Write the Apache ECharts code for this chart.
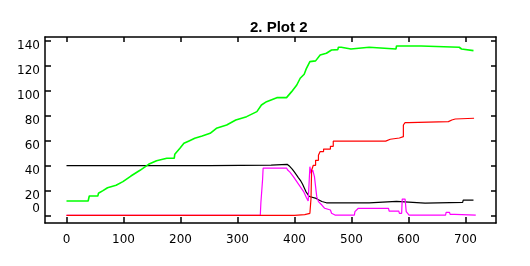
<!DOCTYPE html>
<html>
<head>
<meta charset="utf-8">
<script src="https://cdn.jsdelivr.net/npm/echarts@6/dist/echarts.min.js"></script>
<style>html,body{margin:0;padding:0;background:#fff;}#c{width:530px;height:266px;}</style>
</head>
<body>
<div id="c"></div>
<script>
const xTicks = [0, 100, 200, 300, 400, 500, 600, 700];
const yTicks = [0, 20, 40, 60, 80, 100, 120, 140];

const greenData = [[0,11.4],[38,11.4],[40,15.4],[55,15.4],[56,17.6],[64,19.7],[72,22],[87,24],[99,26.9],[113,31.4],[129,36],[144,40.8],[158,43.7],[176,45.6],[189,45.6],[190,48.8],[199,53.6],[206,57.6],[215,59.5],[225,61.6],[238,63.4],[252,65.6],[263,69.6],[281,72.2],[297,76.2],[316,78.9],[334,82.9],[342,88.2],[351,90.9],[369,94.1],[386,94.1],[395,98.9],[404,104.2],[410,109.6],[417,112.8],[421,117.6],[427,122.9],[437,123.5],[445,128.2],[456,129.6],[465,132.2],[476,132.5],[477,134.4],[482,134.4],[483,133],[499,133],[500,134.4],[531,134.4],[532,133],[578,133],[579,135.4],[622,135.4],[623,134.4],[689,134.4],[690,133],[693,133],[694,131.7],[714,131.7]];

const blackData = [[0,39.7],[252,39.7],[253,40.2],[359,40.2],[360,40.8],[387,40.8],[392,39],[396,37],[400,34.5],[404,32],[407,30],[411,27.5],[414,25],[417,22],[420,19],[423,17],[426,15],[429,14],[438,13.5],[442,12.5],[448,11],[456,10],[531,10],[532,11.2],[579,11.2],[580,9.8],[629,9.8],[630,10.4],[695,10.4],[696,12.2],[714,12.2]];

const redData = [[0,0],[400,0.5],[418,1.6],[427,2.9],[429,13.6],[430,36],[433,40],[437,44],[442,48],[445,51],[451,53],[463,55.2],[468,59.3],[560,60.8],[568,61.8],[584,62.9],[591,72.2],[594,74.1],[600,74.9],[670,76.2],[676,77],[682,77.6],[715,77.6]];

const magentaData = [[0,0],[340,0],[341,9.8],[344,28.5],[345,37.8],[386,37.8],[388,36.2],[392,34.5],[395,33],[398,31],[401,29],[404,27],[407,25],[410,23],[413,21.5],[416,19],[418,17],[421,14],[424,11.5],[426,11],[427,38.9],[429,33.6],[432,36.2],[435,30.9],[437,22.9],[439,14.9],[442,10.9],[448,8.2],[453,5.6],[463,4.2],[465,1.6],[471,0.2],[505,0.2],[506,2.9],[512,5.6],[565,5.6],[566,3.4],[583,3.4],[584,1.6],[588,1.6],[589,13],[594,13],[596,2.9],[601,0.2],[665,0.2],[666,2.4],[672,2.4],[673,0.8],[681,0.8],[682,0.2],[718,0.2]];

const chart = echarts.init(document.getElementById('c'), null, {renderer: 'canvas'});
const font = 'DejaVu Sans';
const axLine = {show: true, onZero: false, lineStyle: {color: '#000', width: 1.5}};
const xMin = -37.7, xMax = 753.5, yMin = -6.16, yMax = 142.6;

function line(data, color, w, step) {
  return {type: 'line', data: data, step: step, showSymbol: false, symbol: 'none',
    lineStyle: {color: color, width: w}, itemStyle: {color: color}, animation: false,
    xAxisIndex: 0, yAxisIndex: 0};
}

chart.setOption({
  animation: false,
  backgroundColor: '#fff',
  title: {text: '2. Plot 2', left: 245, top: 15,
    textStyle: {fontFamily: 'Liberation Sans', fontWeight: 'bold', fontSize: 15, color: '#000'}},
  grid: {left: 45, right: 34, top: 37, bottom: 43},
  xAxis: [
    {type: 'value', position: 'bottom', min: xMin, max: xMax,
      axisLine: axLine,
      axisTick: {show: true, inside: true, length: 6, customValues: xTicks, lineStyle: {color: '#000', width: 1.5}},
      axisLabel: {customValues: xTicks, margin: 11, fontFamily: font, fontSize: 12, color: '#000'},
      splitLine: {show: false}},
    {type: 'value', position: 'top', min: xMin, max: xMax,
      axisLine: axLine,
      axisTick: {show: true, inside: true, length: 5, customValues: xTicks, lineStyle: {color: '#000', width: 1.5}},
      axisLabel: {show: false}, splitLine: {show: false}}
  ],
  yAxis: [
    {type: 'value', position: 'left', min: yMin, max: yMax,
      axisLine: axLine,
      axisTick: {show: true, inside: true, length: 6, customValues: yTicks, lineStyle: {color: '#000', width: 1.5}},
      axisLabel: {customValues: yTicks.filter(v => v !== 0), margin: 5, verticalAlign: 'top', fontFamily: font, fontSize: 12, color: '#000'},
      splitLine: {show: false}},
    {type: 'value', position: 'left', min: yMin, max: yMax,
      axisLine: {show: false, onZero: false}, axisTick: {show: false},
      axisLabel: {customValues: [0], margin: 5, verticalAlign: 'bottom', fontFamily: font, fontSize: 12, color: '#000'},
      splitLine: {show: false}},
    {type: 'value', position: 'right', min: yMin, max: yMax,
      axisLine: axLine,
      axisTick: {show: true, inside: true, length: 5, customValues: yTicks, lineStyle: {color: '#000', width: 1.5}},
      axisLabel: {show: false}, splitLine: {show: false}}
  ],
  series: [
    line(blackData, '#000000', 1.2, false),
    line(magentaData, '#ff00ff', 1.2, false),
    line(redData, '#ff0000', 1.2, 'end'),
    line(greenData, '#00ff00', 1.6, false)
  ]
});
</script>
</body>
</html>
